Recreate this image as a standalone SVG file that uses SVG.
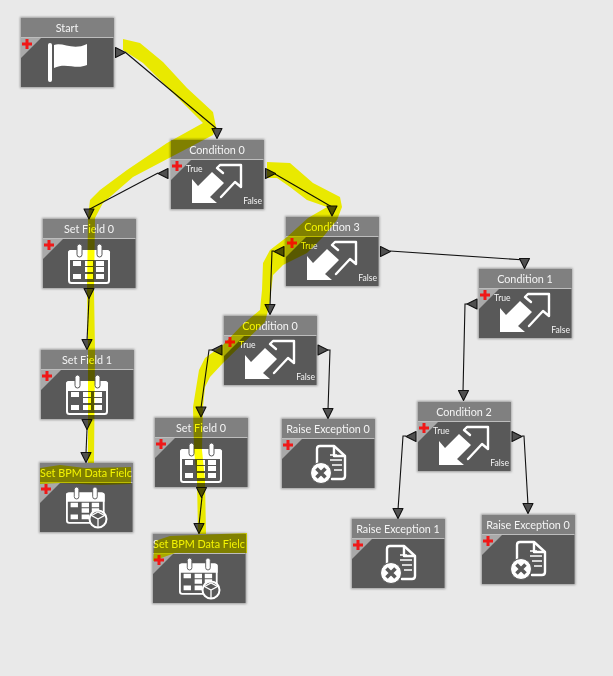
<svg xmlns="http://www.w3.org/2000/svg" xmlns:xlink="http://www.w3.org/1999/xlink" width="613" height="676" viewBox="0 0 613 676">
<style>
text{font-family:Lato,"Open Sans","Liberation Sans",sans-serif;fill:#f4f4f4}
.title{font-size:10.800px;text-anchor:middle}
.small{font-size:8.600px}
.end{text-anchor:end}
.body{fill:#595959}
.head{fill:#808080}
.rule{stroke:#bdbdbd;stroke-width:1}
.corner{fill:#a9a9a9}
.plus{stroke:#f01818;stroke-width:3;fill:none}
.port{fill:#505050;stroke:#111;stroke-width:1.100;stroke-linejoin:round}
.line{fill:none;stroke:#111;stroke-width:1.100}
.wh{fill:#fff}
.ol{fill:none;stroke:#fff;stroke-width:2.400;stroke-linejoin:round;stroke-linecap:round}
.hl{fill:#ffff00;mix-blend-mode:multiply}
</style>
<defs>
<filter id="sh" x="-10%" y="-10%" width="120%" height="120%"><feGaussianBlur stdDeviation="1"/></filter>
<g id="base">
<rect x="-1" y="-1" width="94.500" height="71" fill="#999" filter="url(#sh)"/>
<rect class="body" width="92.500" height="69"/>
<rect class="head" width="92.500" height="19"/>
<line class="rule" x1="0" x2="92.500" y1="19.500" y2="19.500"/>
<path class="corner" d="M0 20H20L0 40Z"/>
<path class="plus" d="M1 26H11M6 21V31"/>
</g>
<path id="pr" class="port" d="M-5 -5L5 0L-5 5Z"/>
<path id="pl" class="port" d="M5 -5L-5 0L5 5Z"/>
<path id="pd" class="port" d="M-5 -5H5L0 5Z"/>
<g id="cond">
<path class="wh" d="M21 63V39L27 46L41 32L53 43L39 57L46 63Z"/>
<path class="ol" d="M52 33L46 28L49 25H70V47L64 42L50 57"/>
<text class="small" x="15" y="32">True</text>
<text class="small end" x="91" y="64">False</text>
</g>
<g id="cal">
<rect x="26" y="32" width="40" height="32" rx="2.500" fill="none" stroke="#fff" stroke-width="2"/>
<path class="wh" d="M25 41V33.500Q25 31 28 31H64Q67 31 67 33.500V41Z"/>
<rect class="wh" x="34" y="25" width="5" height="13" rx="2.500" stroke="#595959"/>
<rect class="wh" x="54" y="25" width="5" height="13" rx="2.500" stroke="#595959"/>
<path class="wh" d="M30 42h8v5h-8zM42 42h8v5h-8zM53 42h8v5h-8zM42 48h8v5h-8zM53 48h8v5h-8zM30 55h8v5h-8zM42 55h8v5h-8zM53 55h8v5h-8z"/>
</g>
<g id="calcube">
<use href="#cal" transform="translate(3 1) scale(.92)"/>
<circle cx="58" cy="56" r="8.500" fill="#595959" stroke="#fff" stroke-width="2"/>
<path d="M51.500 52.500L58 49L64.500 52.500L58 56ZM58 56V64" fill="none" stroke="#fff" stroke-width="1.300"/>
</g>
<g id="doc">
<path class="ol" d="M35 45V30Q35 27 38 27H52L63 37V57Q63 60 60 60H50"/>
<path class="ol" d="M52 28V37H62"/>
<path d="M48 36H55M48 41H60M50 46H60M52 51H60" stroke="#fff" stroke-width="1.500" fill="none"/>
<circle class="wh" cx="39" cy="54" r="10.500" stroke="#595959"/>
<path d="M34.500 49.500L43.500 58.500M43.500 49.500L34.500 58.500" stroke="#595959" stroke-width="3.600"/>
</g>
</defs>
<rect width="613" height="676" fill="#e9e9e9"/>
<g id="connectors">
<path class="line" d="M125 52L217 129"/>
<path class="line" d="M158 173L88 210"/>
<path class="line" d="M275 174L332 207"/>
<path class="line" d="M89 298L87 341"/>
<path class="line" d="M87 429L86 453"/>
<path class="line" d="M274 251H272L270 306"/>
<path class="line" d="M390 251L525 260"/>
<path class="line" d="M467 304H465L463 392"/>
<path class="line" d="M212 350H209L201 408"/>
<path class="line" d="M328 350H330L328 410"/>
<path class="line" d="M202 497L199 525"/>
<path class="line" d="M406 436H403L398 510"/>
<path class="line" d="M522 436H524L528 505"/>
</g>
<g id="node-start" transform="translate(21 18)"><use href="#base"/><text class="title" x="46" y="14">Start</text>
<rect class="wh" x="27" y="25" width="4" height="39" rx="2"/><path class="wh" d="M33 27C42 24 52 33 66 26V47C55 52 45 44 33 50Z"/><use href="#pr" x="99.500" y="34.500"/></g>
<g id="node-condition-0" transform="translate(171 140)"><use href="#base"/><text class="title" x="46" y="14">Condition 0</text><use href="#cond"/><use href="#pd" x="46" y="-6.500"/><use href="#pl" x="-8" y="33.500"/><use href="#pr" x="99.500" y="33.500"/></g>
<g id="node-set-field-0" transform="translate(43 219)"><use href="#base"/><text class="title" x="46" y="14">Set Field 0</text><use href="#cal"/><use href="#pd" x="46" y="-5"/><use href="#pd" x="46" y="74.500"/></g>
<g id="node-set-field-1" transform="translate(41 350)"><use href="#base"/><text class="title" x="46" y="14">Set Field 1</text><use href="#cal"/><use href="#pd" x="46" y="-5.500"/><use href="#pd" x="46" y="74.500"/></g>
<g id="node-bpm-1" transform="translate(40 463)"><use href="#base"/><text class="title" x="46" y="14">Set BPM Data Fielc</text><use href="#calcube"/><use href="#pd" x="46" y="-5.500"/></g>
<g id="node-condition-3" transform="translate(286 217)"><use href="#base"/><text class="title" x="46" y="14">Condition 3</text><use href="#cond"/><use href="#pd" x="46" y="-6"/><use href="#pl" x="-7" y="34.500"/><use href="#pr" x="99.500" y="34.500"/></g>
<g id="node-condition-0b" transform="translate(224 316)"><use href="#base"/><text class="title" x="46" y="14">Condition 0</text><use href="#cond"/><use href="#pd" x="46" y="-6.500"/><use href="#pl" x="-7" y="34"/><use href="#pr" x="99" y="34"/></g>
<g id="node-condition-1" transform="translate(479 269)"><use href="#base"/><text class="title" x="46" y="14">Condition 1</text><use href="#cond"/><use href="#pd" x="45.500" y="-5.500"/><use href="#pl" x="-7" y="35"/></g>
<g id="node-set-field-0b" transform="translate(155 418)"><use href="#base"/><text class="title" x="46" y="14">Set Field 0</text><use href="#cal"/><use href="#pd" x="46" y="-6"/><use href="#pd" x="46.500" y="74.500"/></g>
<g id="node-raise-0a" transform="translate(282 419)"><use href="#base"/><text class="title" x="46" y="14">Raise Exception 0</text><use href="#doc"/><use href="#pd" x="46" y="-5.500"/></g>
<g id="node-condition-2" transform="translate(418 402)"><use href="#base"/><text class="title" x="46" y="14">Condition 2</text><use href="#cond"/><use href="#pd" x="45.500" y="-6.500"/><use href="#pl" x="-7" y="34.500"/><use href="#pr" x="99" y="34.500"/></g>
<g id="node-raise-1" transform="translate(352 519)"><use href="#base"/><text class="title" x="46" y="14">Raise Exception 1</text><use href="#doc"/><use href="#pd" x="46" y="-5.500"/></g>
<g id="node-raise-0b" transform="translate(482 515)"><use href="#base"/><text class="title" x="46" y="14">Raise Exception 0</text><use href="#doc"/><use href="#pd" x="46" y="-6.500"/></g>
<g id="node-bpm-2" transform="translate(153 534)"><use href="#base"/><text class="title" x="46" y="14">Set BPM Data Fielc</text><use href="#calcube"/><use href="#pd" x="46" y="-5.500"/></g>
<g id="highlight">
<path class="hl" d="M123 39L140 43L163 62L187 88L213 112L216 127L213 135L171 157L133 177L103 203L95 218L94 290L95 350L94 463L88 463L88 350L87 290L88 218L90 200L100 190L127 170L167 143L203 123L190 110L167 87L143 63L123 50Z"/>
<path class="hl" d="M267 162L290 163L313 183L340 197L342 207L337 220L323 237L307 253L283 265L273 275L270 300L269 307L265 322L223 363L210 377L205 387L203 407L202 450L205 480L206 534L198 534L197 480L194 450L193 407L199 370L205 358L223 345L242 325L260 310L262 290L263 263L270 250L287 237L308 218L327 207L307 200L290 187L277 178L267 178Z"/>
<path class="hl" d="M40 468L60 465L85 468L131 467V484L100 485L60 483L40 484Z"/>
<path class="hl" d="M155 541L170 536L247 533V553L175 553L153 561Z"/>
</g>
</svg>
